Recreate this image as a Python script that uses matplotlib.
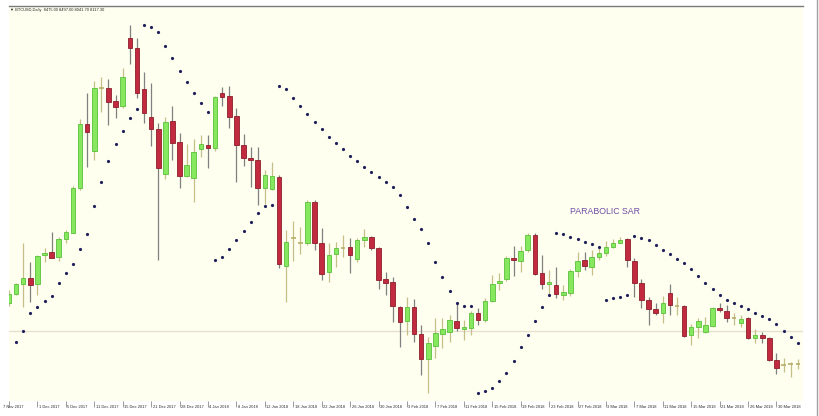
import numpy as np
import matplotlib
matplotlib.use("Agg")
import matplotlib.pyplot as plt
from matplotlib import transforms
from matplotlib.lines import Line2D

# daily BTCUSD candles, first one is partly hidden at the left edge
first_bar = -1
opens = [8880, 9250, 9630, 9870, 9640, 10790, 10910, 10730, 11430, 11690,
         13470, 16040, 14960, 17480, 17490, 16970, 16760, 19470, 19090, 17440,
         16330, 15830, 14030, 16160, 15330, 13970, 13890, 15040, 15200, 15070,
         17290, 17160, 16360, 15190, 14690, 14600, 13490, 13430, 13930, 10360,
         11470, 11250, 11290, 12910, 11270, 10130, 10830, 11080, 11110, 10640,
         11400, 11530, 11090, 9850, 9710, 8710, 8160, 8730, 7630, 6640,
         7160, 7640, 7730, 8170, 7850, 7890, 8470, 8200, 8970, 9690,
         9840, 10670, 10560, 11000, 11600, 10070, 9630, 9600, 9200, 9270,
         10170, 10600, 10330, 10710, 10870, 11130, 11290, 11430, 10560, 9670,
         9000, 8640, 8470, 9290, 8800, 8760, 7600, 7910, 7730, 7970,
         8690, 8570, 8270, 8090, 8270, 7490, 7590, 7490, 6600, 6400,
         6430, 6440]
highs = [9400, 9680, 11270, 10530, 10800, 11070, 11710, 11510, 11800, 13560,
         16230, 17270, 17770, 17910, 17830, 17200, 18290, 20000, 19470, 18110,
         17670, 16070, 16330, 16760, 15670, 15240, 15430, 15600, 15600, 17160,
         17530, 17560, 16670, 15630, 15130, 15130, 14200, 14530, 14000, 11800,
         12160, 11930, 13000, 13000, 11870, 11290, 11330, 11600, 11470, 11470,
         11830, 11560, 11130, 10110, 9910, 8760, 9110, 9030, 8000, 7530,
         8270, 8270, 8400, 8890, 8200, 8570, 8690, 9070, 10000, 10070,
         10760, 11160, 11160, 11670, 11670, 10800, 10200, 10310, 9600, 10230,
         10930, 10930, 11000, 11130, 11370, 11430, 11530, 11470, 10690, 9830,
         9130, 8870, 9160, 9640, 9130, 8800, 8040, 8270, 8330, 8730,
         8870, 8800, 8470, 8400, 8330, 7830, 7730, 7530, 6870, 6670,
         6530, 6630]
lows = [8760, 9200, 8710, 8930, 9200, 10530, 10670, 10560, 11290, 11670,
        13400, 14330, 14600, 16530, 16000, 16290, 16690, 18430, 17090, 16070,
        15160, 10600, 13830, 14600, 13490, 13930, 12930, 14730, 14290, 14970,
        16760, 15890, 13710, 14370, 13530, 12800, 12840, 13400, 10270, 8910,
        10560, 10840, 11200, 11000, 9800, 9730, 10330, 10730, 10090, 10530,
        11110, 11000, 9440, 9200, 8130, 7130, 7600, 7330, 6000, 5270,
        6670, 7070, 7330, 7770, 7400, 7590, 8000, 8130, 8930, 9400,
        9770, 9960, 10130, 10930, 10000, 9430, 9160, 9070, 9000, 9160,
        9910, 10200, 10000, 10600, 10760, 11070, 11270, 10330, 9130, 8670,
        8000, 8400, 8070, 8400, 8400, 7530, 7200, 7470, 7670, 7930,
        8530, 8130, 8000, 7930, 7430, 7290, 7270, 6570, 6040, 6130,
        5930, 6230]
closes = [9240, 9630, 9870, 9600, 10760, 10890, 10690, 11430, 11720, 13470,
          16040, 15730, 17470, 17480, 16930, 16710, 17910, 19090, 17290, 16470,
          15840, 14270, 16110, 15290, 13970, 14400, 14930, 15230, 15080, 17110,
          17110, 16330, 15200, 14670, 14600, 13470, 14000, 13960, 10430, 11330,
          11470, 11310, 12910, 11290, 10040, 10800, 11070, 11080, 10800, 11400,
          11530, 11090, 9800, 9670, 8760, 8130, 8730, 7630, 6640, 7290,
          7670, 7830, 8200, 7870, 7930, 8470, 8200, 8970, 9640, 9770,
          10670, 10600, 10960, 11600, 10040, 9630, 9730, 9230, 9330, 10170,
          10570, 10360, 10730, 10890, 11130, 11290, 11400, 10600, 9670, 9000,
          8630, 8470, 8870, 8800, 8760, 7570, 7930, 8160, 8000, 8670,
          8600, 8270, 8270, 8230, 7470, 7600, 7490, 6600, 6290, 6400,
          6430, 6440]

# parabolic SAR, one value per bar starting at bar 0
sar_first_bar = 0
sar = [7330, 7760, 8470, 8710, 8950, 9170, 9690, 10080, 10430, 11040,
       11630, 12760, 13730, 14570, 15230, 15770, 16290, 16640, 20000, 19930,
       19720, 19170, 18670, 18170, 17710, 17290, 16890, 16520, 10600, 10730,
       11030, 11400, 11770, 12110, 12470, 12760, 12800, 17560, 17430, 17070,
       16760, 16440, 16130, 15830, 15530, 15290, 15030, 14770, 14560, 14330,
       14110, 13910, 13710, 13510, 13200, 12710, 12240, 11840, 11270, 10530,
       9910, 9370, 8870, 8760, 8760, 5270, 5360, 5470, 5760, 6090,
       6560, 7110, 7600, 8160, 8730, 9200, 11670, 11630, 11530, 11430,
       11310, 11230, 11130, 9000, 9070, 9110, 9200, 11560, 11490, 11400,
       11200, 11000, 10830, 10630, 10470, 10250, 9960, 9670, 9430, 9200,
       9000, 8870, 8760, 8640, 8470, 8360, 8230, 8030, 7760, 7530,
       7270]

hline_level = 7760

tick_labels = ["7 Nov 2017", "1 Dec 2017", "5 Dec 2017", "11 Dec 2017", "15 Dec 2017",
               "21 Dec 2017", "28 Dec 2017", "4 Jan 2018", "8 Jan 2018", "12 Jan 2018",
               "18 Jan 2018", "22 Jan 2018", "26 Jan 2018", "30 Jan 2018", "3 Feb 2018",
               "7 Feb 2018", "11 Feb 2018", "15 Feb 2018", "19 Feb 2018", "23 Feb 2018",
               "27 Feb 2018", "3 Mar 2018", "7 Mar 2018", "11 Mar 2018", "15 Mar 2018",
               "21 Mar 2018", "26 Mar 2018", "30 Mar 2018"]
tick_bars = list(range(-1, 108, 4))

header = "\u25bc BTCUSD,Daily  8475.00 8497.00 8041.70 8117.30"

small_font = ['Liberation Sans', 'DejaVu Sans']

o = np.array(opens, dtype=float)
h = np.array(highs, dtype=float)
l = np.array(lows, dtype=float)
c = np.array(closes, dtype=float)
xs = np.arange(first_bar, first_bar + len(o))

doji = np.abs(c - o) <= 60
bull = (c > o) & ~doji
bear = (o > c) & ~doji

W, H = 819, 416
fig = plt.figure(figsize=(W / 100, H / 100), dpi=100, facecolor='white')
ax = fig.add_axes([9 / W, 15 / H, (803 - 9) / W, (401 - 6) / H])
ax.set_facecolor('#fffff0')

# wicks
wick_cols = np.where(bear, '#808080', '#c4bf88')
ax.vlines(xs, l, h, colors=list(wick_cols), linewidth=0.9, zorder=2)

# bodies
bw = 0.64
ax.bar(xs[bull], (c - o)[bull], bottom=o[bull], width=bw,
       color='#86e85e', edgecolor='#5cbf3c', linewidth=0.6, zorder=3)
ax.bar(xs[bear], (o - c)[bear], bottom=c[bear], width=bw,
       color='#c22a3f', edgecolor='#8e1d2c', linewidth=0.6, zorder=3)
ax.hlines(((o + c) / 2)[doji], xs[doji] - bw / 2, xs[doji] + bw / 2,
          colors='#b5ae6a', linewidth=1.2, zorder=3)

# SAR dots
sx = np.arange(sar_first_bar, sar_first_bar + len(sar))
ax.plot(sx, sar, linestyle='none', marker='o', ms=2.3, color='#20205a',
        markeredgewidth=0, zorder=4)

ax.axhline(hline_level, color='#e4e0d0', linewidth=1, zorder=1)

ax.set_xlim(-0.94, 110.73)
ax.set_ylim(4960, 20760)

for side in ['left', 'right', 'bottom']:
    ax.spines[side].set_visible(False)
ax.spines['top'].set_color('#7a7a7a')
ax.spines['top'].set_linewidth(1)

ax.set_yticks([])
ax.set_xticks(tick_bars)
ax.tick_params(axis='x', length=4, width=0.6, color='#8a8a8a',
               direction='out', labelbottom=False)

trans = transforms.offset_copy(
    transforms.blended_transform_factory(ax.transData, ax.transAxes),
    fig=fig, x=1.5, y=-5.5, units='dots')
for b, lab in zip(tick_bars[1:], tick_labels[1:]):
    ax.text(b, 0, lab, transform=trans, ha='left', va='center',
            fontsize=2.9, family=small_font, color='#2a2a2a')
fig.text(3 / W, 1 - 406.5 / H, tick_labels[0], ha='left', va='center',
         fontsize=2.9, family=small_font, color='#2a2a2a')

fig.text(10 / W, 1 - 9.5 / H, header, ha='left', va='center',
         fontsize=2.85, family=small_font, color='#222222')

fig.text(570.5 / W, 1 - 211.7 / H, "PARABOLIC SAR", ha='left', va='center',
         fontsize=6.3, family=small_font, color='#6f4fa6')

fig.add_artist(Line2D([817 / W, 817 / W], [0, 1], transform=fig.transFigure,
                      color='#a0a0a0', linewidth=1))

fig.savefig('out.png', dpi=100, facecolor='white')
